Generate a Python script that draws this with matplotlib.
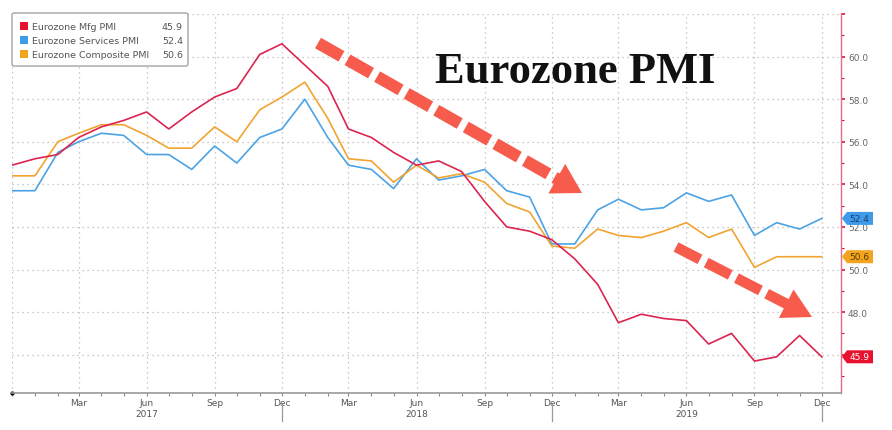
import math
import matplotlib
matplotlib.use("Agg")
import matplotlib.pyplot as plt
import matplotlib.dates as mdates
import matplotlib.transforms as mtransforms
from matplotlib.patches import Polygon, FancyBboxPatch, Rectangle
from matplotlib.lines import Line2D
import pandas as pd

# monthly PMI readings, Dec 2016 .. Dec 2019
months = pd.date_range("2016-12-01", "2019-12-01", freq="MS")

mfg = [54.9,
       55.2, 55.4, 56.2, 56.7, 57.0, 57.4, 56.6, 57.4, 58.1, 58.5, 60.1, 60.6,
       59.6, 58.6, 56.6, 56.2, 55.5, 54.9, 55.1, 54.6, 53.2, 52.0, 51.8, 51.4,
       50.5, 49.3, 47.5, 47.9, 47.7, 47.6, 46.5, 47.0, 45.7, 45.9, 46.9, 45.9]
services = [53.7,
            53.7, 55.5, 56.0, 56.4, 56.3, 55.4, 55.4, 54.7, 55.8, 55.0, 56.2, 56.6,
            58.0, 56.2, 54.9, 54.7, 53.8, 55.2, 54.2, 54.4, 54.7, 53.7, 53.4, 51.2,
            51.2, 52.8, 53.3, 52.8, 52.9, 53.6, 53.2, 53.5, 51.6, 52.2, 51.9, 52.4]
composite = [54.4,
             54.4, 56.0, 56.4, 56.8, 56.8, 56.3, 55.7, 55.7, 56.7, 56.0, 57.5, 58.1,
             58.8, 57.1, 55.2, 55.1, 54.1, 54.9, 54.3, 54.5, 54.1, 53.1, 52.7, 51.1,
             51.0, 51.9, 51.6, 51.5, 51.8, 52.2, 51.5, 51.9, 50.1, 50.6, 50.6, 50.6]

names = ["Eurozone Mfg PMI", "Eurozone Services PMI", "Eurozone Composite PMI"]
values = [mfg, services, composite]
colors = ["#dc2450", "#4ca3e4", "#f1a431"]
tag_colors = ["#e8122f", "#3d9be9", "#f4a51f"]
tag_text = ["white", "#1c3f73", "#5a3b00"]
year_labels = ["2017", "2018", "2019"]

W, H = 892, 431
fig = plt.figure(figsize=(W / 100, H / 100), dpi=100)
ax = fig.add_axes([12 / W, 1 - 394 / H, 829 / W, 379 / H])
# pixel coords measured from top-left of figure
px = mtransforms.Affine2D().scale(1 / W, -1 / H).translate(0, 1) + fig.transFigure

ax.set_xlim(pd.Timestamp("2016-12-01"), pd.Timestamp("2019-12-27"))
ax.set_ylim(44.2, 62.0)

grid_kw = dict(color="#b8b8b8", linestyle=(0, (1, 3)), linewidth=0.9, zorder=0)
for v in range(46, 63, 2):
    ax.axhline(v, **grid_kw)
for d in pd.date_range("2016-12-01", "2019-12-01", freq="3MS"):
    ax.axvline(d, **grid_kw)

for i in [1, 2, 0]:
    ax.plot(months, values[i], color=colors[i], linewidth=1.2, zorder=3)

for s in ["left", "top"]:
    ax.spines[s].set_visible(False)
ax.spines["bottom"].set_color("#9a9a9a")
ax.spines["bottom"].set_linewidth(1.2)
ax.spines["right"].set_color("#e86a84")
ax.spines["right"].set_linewidth(1.0)

ax.yaxis.tick_right()
ax.set_yticks(range(46, 63, 2))
ax.set_yticklabels([f"{v:.1f}" if v < 62 else "" for v in range(46, 63, 2)])
ax.set_yticks(range(45, 62, 2), minor=True)
ax.tick_params(axis="y", which="both", direction="out", color="#e0103a",
               labelcolor="#666666", labelsize=6.5, pad=2)
ax.tick_params(axis="y", which="major", length=3, width=1.2)
ax.tick_params(axis="y", which="minor", length=2, width=0.8)

ax.set_xticks(pd.date_range("2017-03-01", "2019-12-01", freq="3MS"))
ax.xaxis.set_major_formatter(mdates.DateFormatter("%b"))
ax.xaxis.set_minor_locator(mdates.MonthLocator())
ax.tick_params(axis="x", which="both", direction="out", color="#888888",
               length=2, width=0.8, labelcolor="#555555", labelsize=6.5, pad=1.5)

xt = ax.get_xaxis_transform()
for k, yr in enumerate(year_labels):
    ax.text(pd.Timestamp(f"{2017 + k}-06-01"), -0.055, yr, transform=xt,
            ha="center", va="center", fontsize=6.5, color="#555555")
    ax.plot([pd.Timestamp(f"{2017 + k}-12-01")] * 2, [-0.03, -0.075], transform=xt,
            color="#9a9a9a", linewidth=0.9, clip_on=False)
ax.plot([pd.Timestamp("2016-12-01")], [0], transform=xt, marker="o",
        markersize=2, color="black", clip_on=False)

# last value tags on the right axis
yt = ax.get_yaxis_transform()
for i in range(3):
    last = values[i][-1]
    tr = mtransforms.Affine2D() + mtransforms.ScaledTranslation(1.0, last, yt)
    ax.add_patch(Polygon([(1, 0), (6, 6.5), (32, 6.5), (32, -6.5), (6, -6.5)],
                         closed=True, transform=tr, facecolor=tag_colors[i],
                         edgecolor="none", clip_on=False, zorder=6))
    ax.text(1.0, last, f"{last:.1f}", transform=yt + mtransforms.ScaledTranslation(0.185, 0, fig.dpi_scale_trans),
            ha="center", va="center", fontsize=6.5, color=tag_text[i], zorder=7,
            clip_on=False)

# legend box
fig.patches.append(FancyBboxPatch((12, 14), 176, 53, boxstyle="round,pad=0,rounding_size=2",
                                  transform=px, facecolor="white", edgecolor="#9a9a9a",
                                  linewidth=0.9, zorder=8))
for i in range(3):
    yy = 27 + 14 * i
    fig.patches.append(Rectangle((20, yy - 4), 8, 8, transform=px,
                                 facecolor=tag_colors[i], edgecolor="none", zorder=9))
    fig.text(32, yy, names[i], transform=px, ha="left", va="center",
             fontsize=6.8, color="#555555", zorder=9)
    fig.text(183, yy, f"{values[i][-1]:.1f}", transform=px, ha="right", va="center",
             fontsize=6.8, color="#555555", zorder=9)

fig.text(435, 83, "Eurozone PMI", transform=px, ha="left", va="baseline",
         fontsize=32, fontweight="bold", family="Liberation Serif", color="#111111")


def draw_arrow(x0, y0, x1, y1, width, head_len, head_half, dash=27, gap=7):
    L = math.hypot(x1 - x0, y1 - y0)
    ux, uy = (x1 - x0) / L, (y1 - y0) / L
    bx, by = x1 - ux * head_len, y1 - uy * head_len
    fig.lines.append(Line2D([x0, bx + ux * 2], [y0, by + uy * 2], transform=px,
                            color="#f65b4c", linewidth=width * 0.72,
                            dashes=(dash / width, gap / width), solid_capstyle="butt",
                            dash_capstyle="butt", zorder=5))
    fig.patches.append(Polygon([(x1, y1), (bx - uy * head_half, by + ux * head_half),
                                (bx + uy * head_half, by - ux * head_half)],
                               closed=True, transform=px, facecolor="#f65b4c",
                               edgecolor="none", zorder=5))


draw_arrow(318, 44, 582, 194, 12, 29, 17)
draw_arrow(676, 248, 812, 318, 10.5, 29, 16)

fig.savefig("out.png", dpi=100)
